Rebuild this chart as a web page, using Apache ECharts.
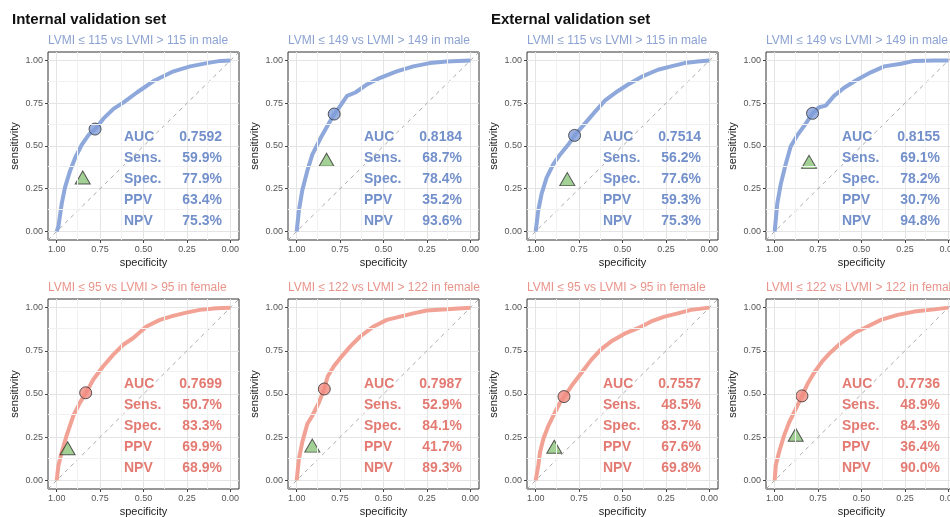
<!DOCTYPE html>
<html>
<head>
<meta charset="utf-8">
<script src="https://cdn.jsdelivr.net/npm/echarts@6/dist/echarts.min.js"></script>
<style>
  html, body { margin: 0; padding: 0; background: #fff; }
  #chart { width: 950px; height: 517px; }
</style>
</head>
<body>
<div id="chart"></div>
<script>
// ROC curves: [specificity, sensitivity]
var rocIntMale115 = [[1, 0], [0.990, 0.029], [0.971, 0.163], [0.952, 0.258], [0.923, 0.354], [0.894, 0.430], [0.856, 0.507], [0.817, 0.564], [0.775, 0.602], [0.731, 0.660], [0.673, 0.717], [0.615, 0.755], [0.538, 0.813], [0.442, 0.880], [0.327, 0.937], [0.231, 0.966], [0.135, 0.985], [0.058, 0.998], [0, 1]];
var rocIntMale149 = [[1, 0], [0.987, 0.124], [0.968, 0.239], [0.939, 0.354], [0.910, 0.449], [0.863, 0.545], [0.821, 0.621], [0.782, 0.688], [0.748, 0.736], [0.710, 0.793], [0.662, 0.813], [0.595, 0.860], [0.519, 0.899], [0.424, 0.937], [0.328, 0.966], [0.233, 0.985], [0.137, 0.994], [0, 1]];
var rocExtMale115 = [[1, 0], [0.994, 0.010], [0.985, 0.124], [0.966, 0.220], [0.937, 0.315], [0.899, 0.392], [0.860, 0.449], [0.813, 0.507], [0.774, 0.564], [0.717, 0.631], [0.660, 0.698], [0.602, 0.765], [0.526, 0.822], [0.468, 0.860], [0.392, 0.904], [0.296, 0.946], [0.220, 0.966], [0.143, 0.985], [0.067, 0.994], [0, 1]];
var rocExtMale149 = [[1, 0], [0.985, 0.163], [0.965, 0.277], [0.937, 0.392], [0.908, 0.497], [0.869, 0.564], [0.821, 0.631], [0.783, 0.690], [0.744, 0.727], [0.706, 0.736], [0.658, 0.793], [0.600, 0.841], [0.523, 0.889], [0.446, 0.931], [0.369, 0.966], [0.273, 0.981], [0.196, 0.998], [0.081, 1], [0, 1]];
var rocIntFemale95 = [[1, 0], [0.990, 0.086], [0.971, 0.163], [0.943, 0.259], [0.904, 0.374], [0.866, 0.450], [0.831, 0.508], [0.789, 0.584], [0.732, 0.661], [0.674, 0.728], [0.617, 0.785], [0.559, 0.824], [0.483, 0.891], [0.406, 0.929], [0.330, 0.952], [0.253, 0.971], [0.176, 0.987], [0.080, 0.996], [0, 1]];
var rocIntFemale122 = [[1, 0], [0.987, 0.125], [0.968, 0.220], [0.939, 0.326], [0.910, 0.374], [0.872, 0.450], [0.842, 0.529], [0.821, 0.603], [0.786, 0.661], [0.748, 0.709], [0.691, 0.776], [0.634, 0.833], [0.557, 0.891], [0.481, 0.929], [0.405, 0.948], [0.328, 0.967], [0.252, 0.983], [0.137, 0.990], [0, 1]];
var rocExtFemale95 = [[1, 0], [0.994, 0.010], [0.985, 0.086], [0.975, 0.163], [0.956, 0.240], [0.927, 0.316], [0.889, 0.393], [0.860, 0.450], [0.832, 0.489], [0.794, 0.546], [0.736, 0.623], [0.679, 0.699], [0.621, 0.761], [0.564, 0.805], [0.488, 0.849], [0.411, 0.881], [0.335, 0.920], [0.258, 0.948], [0.182, 0.967], [0.105, 0.987], [0, 1]];
var rocExtFemale122 = [[1, 0], [0.994, 0.086], [0.975, 0.163], [0.946, 0.259], [0.917, 0.335], [0.879, 0.412], [0.842, 0.489], [0.812, 0.556], [0.773, 0.623], [0.725, 0.690], [0.677, 0.742], [0.619, 0.795], [0.542, 0.853], [0.465, 0.891], [0.388, 0.929], [0.292, 0.958], [0.196, 0.977], [0.081, 0.990], [0, 1]];

// panel order: top row male, bottom row female; cols: int, int, ext, ext
var curves = [rocIntMale115, rocIntMale149, rocExtMale115, rocExtMale149, rocIntFemale95, rocIntFemale122, rocExtFemale95, rocExtFemale122];
var subtitles = ['LVMI ≤ 115 vs LVMI > 115 in male', 'LVMI ≤ 149 vs LVMI > 149 in male', 'LVMI ≤ 115 vs LVMI > 115 in male', 'LVMI ≤ 149 vs LVMI > 149 in male',
    'LVMI ≤ 95 vs LVMI > 95 in female', 'LVMI ≤ 122 vs LVMI > 122 in female', 'LVMI ≤ 95 vs LVMI > 95 in female', 'LVMI ≤ 122 vs LVMI > 122 in female'];
var auc = ['0.7592', '0.8184', '0.7514', '0.8155', '0.7699', '0.7987', '0.7557', '0.7736'];
var sens = [0.599, 0.687, 0.562, 0.691, 0.507, 0.529, 0.485, 0.489];
var spec = [0.779, 0.784, 0.776, 0.782, 0.833, 0.841, 0.837, 0.843];
var ppv = [0.634, 0.352, 0.593, 0.307, 0.699, 0.417, 0.676, 0.364];
var npv = [0.753, 0.936, 0.753, 0.948, 0.689, 0.893, 0.698, 0.900];
// green triangle (comparison point)
var triangle = [[0.850, 0.316], [0.828, 0.420], [0.818, 0.306], [0.802, 0.407], [0.937, 0.186], [0.910, 0.201], [0.893, 0.195], [0.879, 0.264]];
var tickVals = [0, 0.25, 0.5, 0.75, 1];
var minorVals = [0.125, 0.375, 0.625, 0.875];
var metricNames = ['AUC', 'Sens.', 'Spec.', 'PPV', 'NPV'];

(function () {
    var colLeft = [48, 288, 527, 766];
    var rowTop = [52, 299];
    var rowH = [188, 190];
    var panelW = 191;
    var FONT = '"Liberation Sans", Arial, sans-serif';

    var male = {line: '#8ea8db', dot: '#7f9cd8', text: '#7390cb', sub: '#8ba2d2'};
    var female = {line: '#f2a294', dot: '#f08b80', text: '#e37b73', sub: '#e8948a'};

    var chart = echarts.init(document.getElementById('chart'));
    var grids = [], xAxes = [], yAxes = [], series = [], graphics = [];

    function pct(v) { return (v * 100).toFixed(1) + '%'; }

    function axisCfg(i, name, gap, inverse) {
        return {
            gridIndex: i, type: 'value', inverse: inverse, min: -0.05, max: 1.05,
            name: name, nameLocation: 'middle', nameGap: gap,
            nameTextStyle: {color: '#222', fontSize: 11, fontFamily: FONT},
            axisLine: {show: false, onZero: false},
            axisTick: {show: true, customValues: tickVals, length: 3, lineStyle: {color: '#444'}},
            axisLabel: {customValues: tickVals, fontSize: 9, color: '#555', margin: 5, fontFamily: FONT,
                formatter: function (v) { return Number(v).toFixed(2); }},
            splitLine: {show: true, lineStyle: {color: '#e4e4e4', width: 1}}
        };
    }

    graphics.push({type: 'text', left: 12, top: 12, style: {text: 'Internal validation set', font: 'bold 15px ' + FONT, fill: '#111'}});
    graphics.push({type: 'text', left: 491, top: 12, style: {text: 'External validation set', font: 'bold 15px ' + FONT, fill: '#111'}});

    for (var i = 0; i < 8; i++) {
        var r = Math.floor(i / 4), c = i % 4;
        var pal = r === 0 ? male : female;
        var pLeft = colLeft[c], pTop = rowTop[r];
        grids.push({left: pLeft, top: pTop, width: panelW, height: rowH[r], outerBoundsMode: 'none',
            show: true, borderColor: '#333', borderWidth: 1, backgroundColor: '#fff'});
        xAxes.push(axisCfg(i, 'specificity', 17, true));
        yAxes.push(axisCfg(i, 'sensitivity', 28, false));

        // minor grid lines
        var gl = [];
        minorVals.forEach(function (v) {
            gl.push({xAxis: v});
            gl.push({yAxis: v});
        });
        series.push({
            type: 'line', xAxisIndex: i, yAxisIndex: i, silent: true, showSymbol: false,
            data: [[1.05, -0.05], [-0.05, 1.05]],
            lineStyle: {color: '#aaa', width: 1, type: [4, 4]},
            markLine: {silent: true, symbol: 'none', label: {show: false}, animation: false,
                lineStyle: {color: '#f1f1f1', width: 1, type: 'solid'}, data: gl},
            z: 1
        });
        series.push({
            type: 'line', xAxisIndex: i, yAxisIndex: i, silent: true, showSymbol: false,
            data: curves[i], lineStyle: {color: pal.line, width: 4}, z: 3
        });
        series.push({
            type: 'scatter', xAxisIndex: i, yAxisIndex: i, silent: true,
            data: [[spec[i], sens[i]]], symbol: 'circle', symbolSize: 12,
            itemStyle: {color: pal.dot, borderColor: '#333', borderWidth: 1}, z: 4
        });
        series.push({
            type: 'scatter', xAxisIndex: i, yAxisIndex: i, silent: true,
            data: [triangle[i]], symbol: 'triangle', symbolSize: [15, 13],
            itemStyle: {color: '#8cc67b', borderColor: '#333', borderWidth: 1}, z: 4
        });

        graphics.push({type: 'text', left: pLeft, top: pTop - 17, style: {text: subtitles[i], font: '12px ' + FONT, fill: pal.sub}});
        var vals = [auc[i], pct(sens[i]), pct(spec[i]), pct(ppv[i]), pct(npv[i])];
        for (var k = 0; k < 5; k++) {
            var ty = pTop + 85 + k * 21;
            graphics.push({type: 'text', x: pLeft + 76, y: ty, z: 10,
                style: {text: metricNames[k], font: 'bold 14px ' + FONT, fill: pal.text, verticalAlign: 'middle', align: 'left'}});
            graphics.push({type: 'text', x: pLeft + 174, y: ty, z: 10,
                style: {text: vals[k], font: 'bold 14px ' + FONT, fill: pal.text, verticalAlign: 'middle', align: 'right'}});
        }
    }

    chart.setOption({
        animation: false,
        backgroundColor: '#fff',
        grid: grids,
        xAxis: xAxes,
        yAxis: yAxes,
        series: series,
        graphic: graphics
    });
}());
</script>
</body>
</html>
